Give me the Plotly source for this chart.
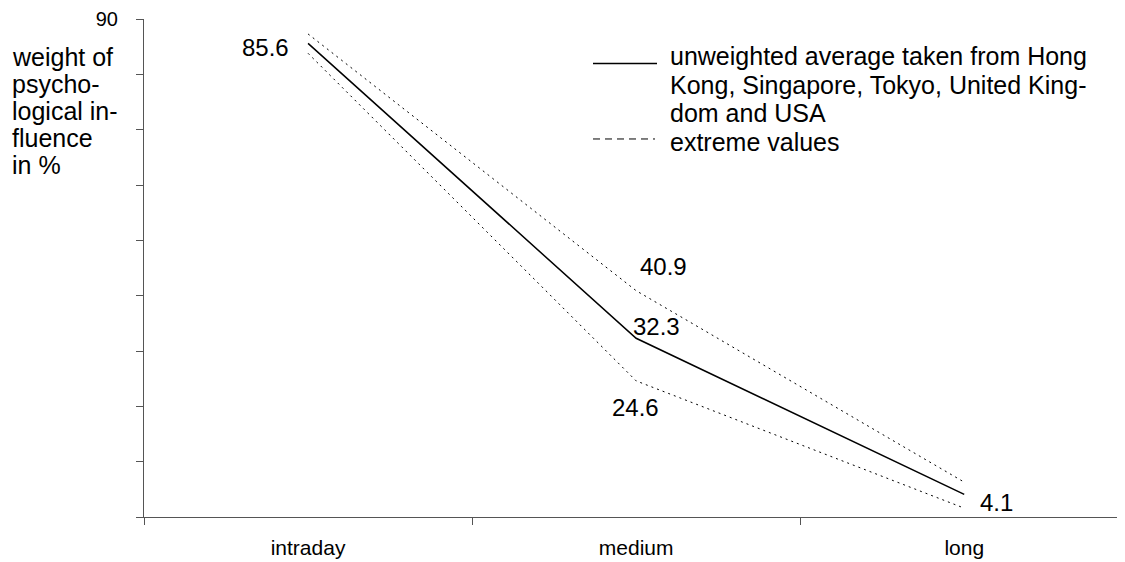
import plotly.graph_objects as go

categories = ["intraday", "medium", "long"]
average = [85.6, 32.3, 4.1]
upper = [87.3, 40.9, 6.3]
lower = [83.8, 24.6, 1.6]

legend_avg_lines = ["unweighted average taken from Hong",
                    "Kong, Singapore, Tokyo, United King-",
                    "dom and USA"]
legend_ext = "extreme values"
ytitle_lines = ["weight of", "psycho-", "logical in-", "fluence", "in %"]

FONT = "Liberation Sans, Arial, sans-serif"
OFF = 8  # default page body margin
W, H = 1125 - OFF, 562 - OFF
L, R, T, B = 144 - OFF, 0, 16 - OFF, 45
PW, PH = W - L - R, H - T - B


def px(x):
    return (x - OFF - L) / PW


def py(y):
    return (H - B - (y - OFF)) / PH


fig = go.Figure()
fig.add_trace(go.Scatter(x=categories, y=upper, mode="lines",
                         line=dict(color="black", width=1, dash="2px,4px"),
                         hoverinfo="skip", showlegend=False))
fig.add_trace(go.Scatter(x=categories, y=lower, mode="lines",
                         line=dict(color="black", width=1, dash="2px,4px"),
                         hoverinfo="skip", showlegend=False))
fig.add_trace(go.Scatter(x=categories, y=average, mode="lines",
                         line=dict(color="black", width=1.5),
                         showlegend=False))

ann = []
# value labels (anchored at data points)
labels = [
    (categories[0], average[0], -43, -4),
    (categories[1], upper[1], 27, 24),
    (categories[1], average[1], 20, 12),
    (categories[1], lower[1], -1, -27),
    (categories[2], average[2], 32, -8),
]
for cx, cy, dx, dy in labels:
    ann.append(dict(x=cx, y=cy, xref="x", yref="y", text=f"{cy}",
                    showarrow=False, xshift=dx, yshift=dy,
                    font=dict(family=FONT, size=24, color="black")))

# y-axis title lines
ty = [54, 81.3, 108.6, 136, 163.3]
for txt, yy in zip(ytitle_lines, ty):
    ann.append(dict(x=px(10), y=py(yy), xref="paper", yref="paper", text=txt,
                    showarrow=False, xanchor="left", yanchor="middle",
                    font=dict(family=FONT, size=25, color="black")))

# legend text
ly = [53, 82, 111, 139.5]
for txt, yy in zip(legend_avg_lines + [legend_ext], ly):
    ann.append(dict(x=px(668), y=py(yy), xref="paper", yref="paper", text=txt,
                    showarrow=False, xanchor="left", yanchor="middle",
                    font=dict(family=FONT, size=25, color="black")))

shapes = [
    dict(type="line", xref="paper", yref="paper", x0=px(593), x1=px(657),
         y0=py(60.7), y1=py(60.7), line=dict(color="black", width=1.5)),
    dict(type="line", xref="paper", yref="paper", x0=px(593), x1=px(655),
         y0=py(136.7), y1=py(136.7), line=dict(color="black", width=1, dash="7px,5px")),
]

fig.update_layout(
    width=W, height=H,
    margin=dict(l=L, r=R, t=T, b=B),
    paper_bgcolor="white", plot_bgcolor="white",
    font=dict(family=FONT, color="black"),
    annotations=ann, shapes=shapes,
    showlegend=False,
)
fig.update_xaxes(
    type="category", range=[-0.5, 2.49],
    showgrid=False, zeroline=False,
    showline=True, linecolor="#555", linewidth=1,
    ticks="outside", ticklen=7, tickcolor="#555", tickson="boundaries",
    tickfont=dict(family=FONT, size=21, color="black"),
    ticklabelstandoff=12,
)
fig.update_yaxes(
    range=[0, 90],
    tickvals=list(range(0, 91, 10)),
    ticktext=["" for _ in range(9)] + ["90"],
    showgrid=False, zeroline=False,
    showline=True, linecolor="#555", linewidth=1,
    ticks="outside", ticklen=7, tickcolor="#555",
    tickfont=dict(family=FONT, size=20, color="black"),
    ticklabelstandoff=14,
    ticklabeloverflow="allow",
)

fig.write_html("out.html")
